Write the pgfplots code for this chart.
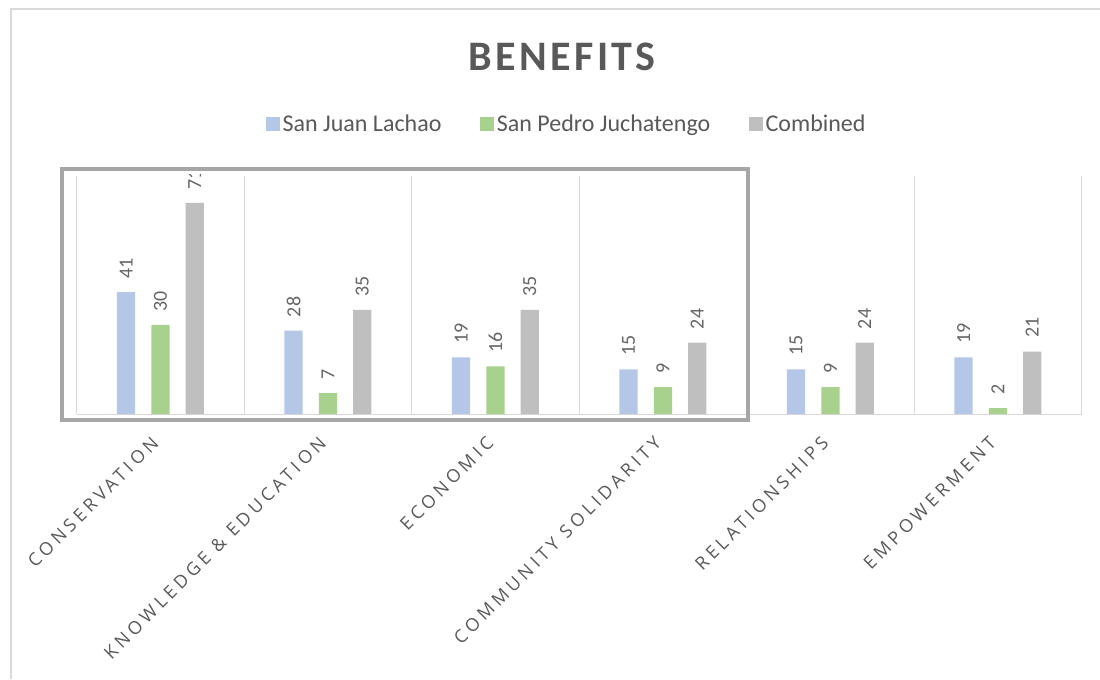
\documentclass[border=0pt]{standalone}
\usepackage{pgfplots}
\pgfplotsset{compat=1.18}
\usepackage{fontspec}
\setmainfont{Carlito}
\newfontfamily\spaced[LetterSpace=22]{Open Sans}
\newfontfamily\titlefont[LetterSpace=8]{Carlito}

\definecolor{cBlue}{HTML}{B4C7E7}
\definecolor{cGreen}{HTML}{A9D18E}
\definecolor{cGray}{HTML}{BFBFBF}
\definecolor{txt}{HTML}{595959}
\definecolor{dlab}{HTML}{666666}
\definecolor{gridc}{HTML}{D9D9D9}
\definecolor{boxc}{HTML}{A6A6A6}

\begin{document}
\begin{tikzpicture}[x=0.75pt,y=0.75pt]
\path[use as bounding box, fill=white] (0,0) rectangle (1100,679);
\draw[gridc, line width=1.5pt] (11,0) -- (11,670) -- (1100,670);
\begin{axis}[
  at={(57.5pt,198.75pt)}, anchor=south west,
  scale only axis, width=753.75pt, height=178.5pt,
  xmin=-0.5, xmax=5.5, ymin=0, ymax=80,
  ybar, bar width=0.109,
  axis x line*=bottom, axis y line=none,
  x axis line style={gridc, line width=0.75pt, -},
  xtick={0,...,5},
  xticklabels={CONSERVATION, {KNOWLEDGE \& EDUCATION}, ECONOMIC, {COMMUNITY SOLIDARITY}, RELATIONSHIPS, EMPOWERMENT},
  major tick length=0pt, minor tick length=0pt,
  minor xtick={-0.5,0.5,1.5,2.5,3.5,4.5,5.5},
  xminorgrids=true,
  minor grid style={gridc, line width=0.75pt},
  ytick=\empty,
  xticklabel style={yshift=-17pt, xshift=-1.5pt, rotate=45, anchor=east, font=\spaced\fontsize{13.5}{15}\selectfont, text=txt},
  clip=false,
  /pgf/number format/assume math mode=true,
  nodes near coords,
  nodes near coords style={rotate=90, anchor=west, font=\fontsize{15}{16}\selectfont, text=dlab, inner sep=0pt, inner xsep=10pt},
  title={BENEFITS},
  title style={at={(0.483,1.466)}, anchor=center, font=\titlefont\bfseries\fontsize{31.5}{34}\selectfont, text=txt},
  legend style={at={(0.488,1.218)}, anchor=center, draw=none, fill=none, legend columns=3,
    font=\fontsize{18}{20}\selectfont, text=txt,
    /tikz/every even column/.append style={column sep=27pt}},
  legend image code/.code={\fill[#1, draw=none] (0pt,-5.25pt) rectangle (10.5pt,5.25pt);},
]
\addplot[fill=cBlue, draw=none, bar shift=-0.205] coordinates {(0,41) (1,28) (2,19) (3,15) (4,15) (5,19)};
\addplot[fill=cGreen, draw=none, bar shift=0] coordinates {(0,30) (1,7) (2,16) (3,9) (4,9) (5,2)};
\addplot[fill=cGray, draw=none, bar shift=0.205] coordinates {(0,71) (1,35) (2,35) (3,24) (4,24) (5,21)};
\legend{San Juan Lachao, San Pedro Juchatengo, Combined}
\end{axis}
\fill[white] (182,505) rectangle (210,539);
\draw[boxc, line width=3pt] (62,510.3) rectangle (747.5,259);
\end{tikzpicture}
\end{document}
